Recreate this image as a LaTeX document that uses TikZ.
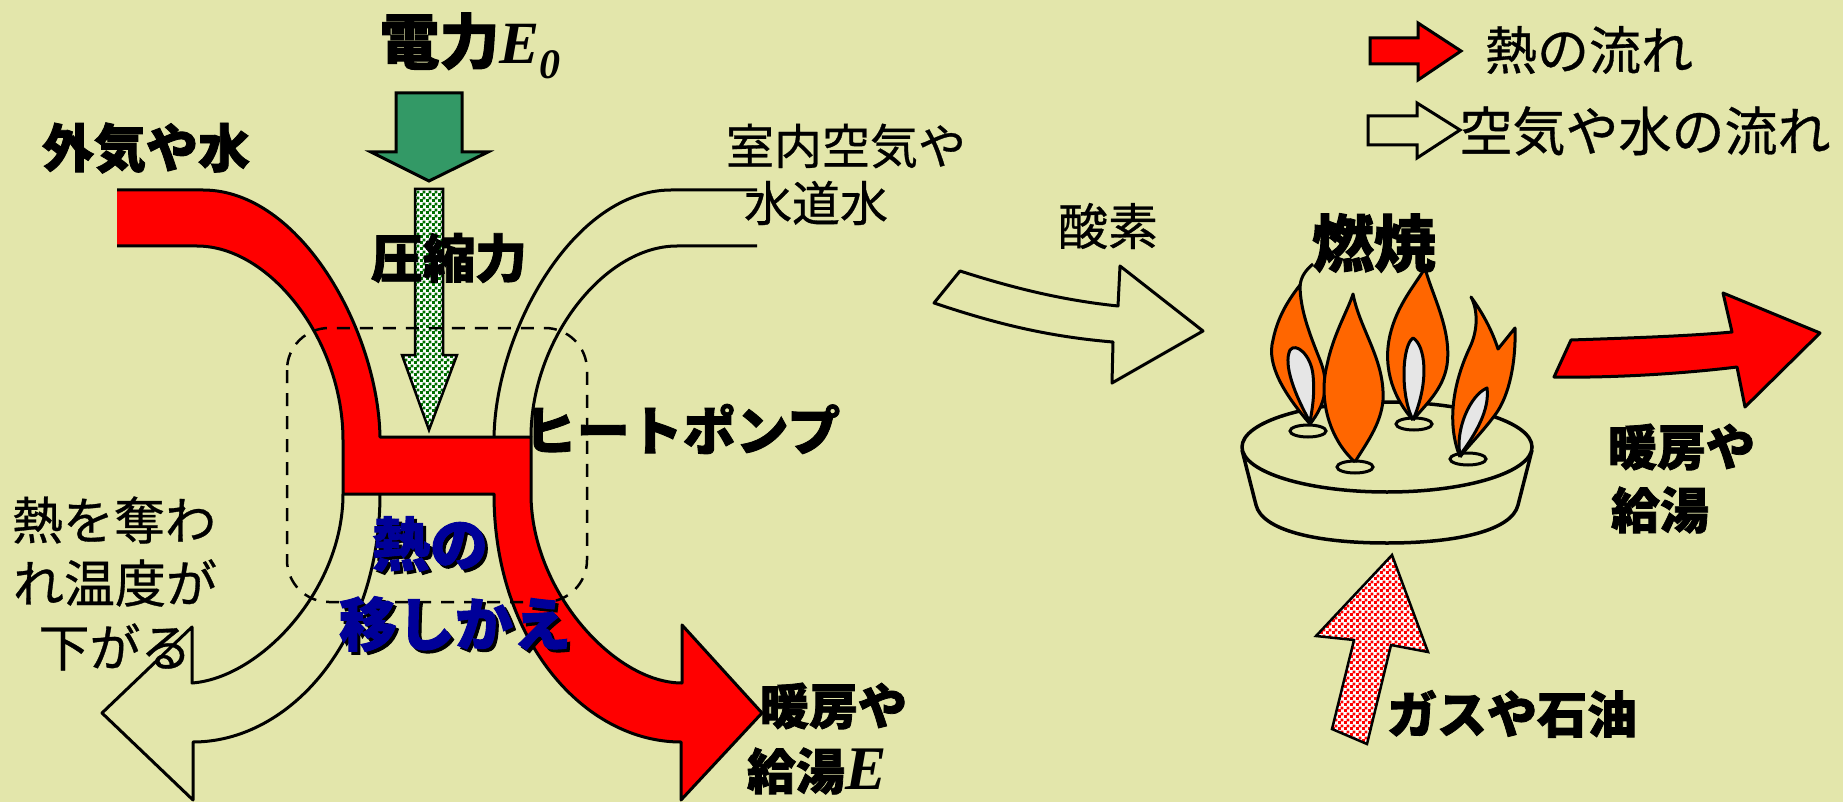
\documentclass[tikz,border=0pt]{standalone}
\usepackage{fontspec}
\usetikzlibrary{patterns}
\newfontfamily\jp{Noto Sans CJK JP}[UprightFeatures={FakeBold=0.6}, BoldFeatures={FakeBold=1.6}]
\newfontfamily\tnr{Liberation Serif}
\definecolor{bgc}{RGB}{227,230,171}
\definecolor{heat}{RGB}{255,0,0}
\definecolor{pushgreen}{RGB}{51,153,102}
\definecolor{checkgreen}{RGB}{0,110,0}
\definecolor{flameor}{RGB}{255,102,0}
\definecolor{flamein}{RGB}{230,230,230}
\definecolor{labelblue}{RGB}{0,0,153}
% checker tiles of 3pt squares
\pgfdeclarepatternformonly{bigchecker}{\pgfpointorigin}{\pgfqpoint{6pt}{6pt}}{\pgfqpoint{6pt}{6pt}}{%
  \pgfpathrectangle{\pgfpointorigin}{\pgfqpoint{3.2pt}{3.2pt}}%
  \pgfpathrectangle{\pgfqpoint{3pt}{3pt}}{\pgfqpoint{3.2pt}{3.2pt}}%
  \pgfusepath{fill}}
\tikzset{
  every node/.style={inner sep=0pt, outer sep=0pt},
  jreg/.style={font={\jp\fontsize{#1}{#1}\selectfont}},
  jbold/.style={font={\jp\bfseries\fontsize{#1}{#1}\selectfont}},
  outline/.style={draw=black, line width=3pt, line join=round},
  burnerline/.style={draw=black, line width=3.5pt, line join=round},
  flame/.style={draw=black, line width=3pt, line join=round, fill=flameor},
  innerflame/.style={draw=black, line width=3pt, line join=round, fill=flamein},
  hole/.style={draw=black, line width=3pt, fill=bgc},
}
\begin{document}
\begin{tikzpicture}[x=1pt,y=-1pt]
\fill[bgc] (0,0) rectangle (1843,802);
\useasboundingbox (0,0) rectangle (1843,802);

% ---------------- heat pump ----------------
% cooled outside air / water leaving to the left
\path[outline, fill=bgc] (343,494) .. controls (343,590) and (260,678) .. (192,683)
  -- (192,627) -- (102,713) -- (193,800) -- (193,742)
  .. controls (290,742) and (380,640) .. (380,494);
% room air / tap water coming in from the right
\draw[outline] (757,190) -- (671,190) .. controls (574,190) and (496,330) .. (494,437);
\draw[outline] (757,246) -- (677,246) .. controls (604,246) and (531,340) .. (531,437);
% heat carried through the pump
\path[outline, fill=heat] (117,246) -- (197,246) .. controls (270,246) and (343,340) .. (343,440)
  -- (343,494) -- (494,494) .. controls (494,640) and (584,742) .. (681,742)
  -- (681,800) -- (762,713) -- (682,625) -- (682,683)
  .. controls (614,683) and (531,590) .. (531,494) -- (531,437) -- (380,437)
  .. controls (378,330) and (300,190) .. (203,190) -- (117,190);

% electric power input
\path[draw=black, line width=3pt, line join=miter, fill=pushgreen]
  (396,93) -- (462,93) -- (462,152) -- (488,152) -- (429,181) -- (371,152) -- (396,152) -- cycle;
% compression
\path[preaction={fill=white}, pattern=bigchecker, pattern color=checkgreen, draw=black, line width=2.5pt]
  (415,189) -- (443,189) -- (443,355) -- (457,355) -- (429,430) -- (402,355) -- (415,355) -- cycle;

% heat pump boundary
\draw[line width=2.5pt, dash pattern=on 13pt off 10pt, rounded corners=42pt] (287,328) rectangle (587,602);

% ---------------- combustion ----------------
% oxygen supply
\path[outline, fill=bgc] (960,271) .. controls (1010,287) and (1060,300) .. (1118,306)
  -- (1120,266) -- (1203,331) -- (1112,383) -- (1113,342)
  .. controls (1040,336) and (985,320) .. (934,303) -- cycle;
% heat output
\path[outline, fill=heat] (1571,340) .. controls (1630,338) and (1690,336) .. (1732,332)
  -- (1723,293) -- (1820,333) -- (1745,407) -- (1737,367)
  .. controls (1680,374) and (1610,378) .. (1554,377) -- cycle;
% fuel supply
\path[preaction={fill=white}, pattern=bigchecker, pattern color=heat, draw=black, line width=2.5pt, line join=miter]
  (1332,729) -- (1354,640) -- (1316,636) -- (1392,555) -- (1428,652) -- (1391,645) -- (1367,744) -- cycle;

% burner body
\path[burnerline, fill=bgc] (1242,450) -- (1256,505) .. controls (1262,530) and (1315,543) .. (1387,543)
  .. controls (1459,543) and (1512,530) .. (1518,505) -- (1532,450);
\path[burnerline, fill=bgc] (1387,447) ellipse [x radius=145, y radius=45];
\path[hole] (1308,431) ellipse [x radius=18, y radius=6];
\path[hole] (1355,467) ellipse [x radius=18, y radius=6];
\path[hole] (1414,424) ellipse [x radius=18, y radius=6];
\path[hole] (1468,459) ellipse [x radius=18, y radius=6];

% flames
\path[flame] (1310,424) .. controls (1285,395) and (1266,365) .. (1273,340)
  .. controls (1278,315) and (1290,298) .. (1300,285)
  .. controls (1300,310) and (1310,335) .. (1320,360)
  .. controls (1330,385) and (1325,405) .. (1310,424);
\draw[line width=3pt] (1300,286) .. controls (1301,276) and (1306,270) .. (1313,264);
\path[innerflame] (1310,422) .. controls (1295,395) and (1283,365) .. (1290,350)
  .. controls (1296,342) and (1311,355) .. (1313,375)
  .. controls (1315,395) and (1312,410) .. (1310,422);
\path[flame] (1355,462) .. controls (1330,440) and (1318,400) .. (1327,365)
  .. controls (1333,335) and (1348,310) .. (1353,294)
  .. controls (1360,330) and (1385,360) .. (1383,400)
  .. controls (1381,425) and (1365,445) .. (1355,462);
\path[flame] (1413,420) .. controls (1395,400) and (1382,370) .. (1390,335)
  .. controls (1397,305) and (1415,285) .. (1425,268)
  .. controls (1432,295) and (1452,330) .. (1447,365)
  .. controls (1443,390) and (1425,405) .. (1413,420);
\path[innerflame] (1413,420) .. controls (1400,395) and (1402,345) .. (1413,338)
  .. controls (1425,345) and (1430,380) .. (1413,420);
\path[flame] (1460,457) .. controls (1447,425) and (1452,385) .. (1470,347)
  .. controls (1478,330) and (1478,310) .. (1471,297)
  .. controls (1482,312) and (1492,330) .. (1498,349) -- (1515,328)
  .. controls (1516,360) and (1510,395) .. (1495,415)
  .. controls (1480,435) and (1467,447) .. (1460,457);
\path[innerflame] (1460,455) .. controls (1455,430) and (1470,395) .. (1487,388)
  .. controls (1490,410) and (1475,435) .. (1460,455);

% ---------------- legend ----------------
\path[outline, line join=miter, fill=heat] (1370,38) -- (1418,38) -- (1418,23) -- (1461,51) -- (1418,80) -- (1418,64) -- (1370,64) -- cycle;
\path[outline, line join=miter, fill=bgc] (1368,116) -- (1417,116) -- (1417,103) -- (1460,130) -- (1417,158) -- (1417,145) -- (1368,145) -- cycle;

% ---------------- labels ----------------
\node[jbold=60] (power) at (470,46) {電力{\tnr\bfseries\itshape E\raisebox{-0.25em}{\fontsize{42}{42}\selectfont 0}}};
\node[jbold=52] (outside) at (146,148) {外気や水};
\node[jbold=52] (compress) at (449,258) {圧縮力};
\node[jreg=48] (room1) at (846,146) {室内空気や};
\node[jreg=48] (room2) at (816,203) {水道水};
\node[jbold=53] (hp) at (682,429) {ヒートポンプ};
\node[jreg=51] (cool1) at (114,520) {熱を奪わ};
\node[jreg=51] (cool2) at (115,583) {れ温度が};
\node[jreg=51] (cool3) at (115,647) {下がる};
\node[jbold=58, text=black] (shift1s) at (433,547) {熱の};
\node[jbold=58, text=black] (shift2s) at (458,627) {移しかえ};
\node[jbold=58, text=labelblue] (shift1) at (430,544) {熱の};
\node[jbold=58, text=labelblue] (shift2) at (455,624) {移しかえ};
\node[jbold=49, anchor=west] (use1) at (760,706) {暖房や};
\node[jbold=49, anchor=west] (use2) at (747,771) {給湯{\tnr\bfseries\itshape\fontsize{62}{62}\selectfont E}};
\node[jreg=50] (oxy) at (1108,226) {酸素};
\node[jbold=62] (burn) at (1374,243) {燃焼};
\node[jbold=49, anchor=west] (use3) at (1608,447) {暖房や};
\node[jbold=49, anchor=west] (use4) at (1611,510) {給湯};
\node[jbold=50] (fuel) at (1512,714) {ガスや石油};
\node[jreg=52] (leg1) at (1589,50) {熱の流れ};
\node[jreg=53] (leg2) at (1645,131) {空気や水の流れ};
\end{tikzpicture}
\end{document}
